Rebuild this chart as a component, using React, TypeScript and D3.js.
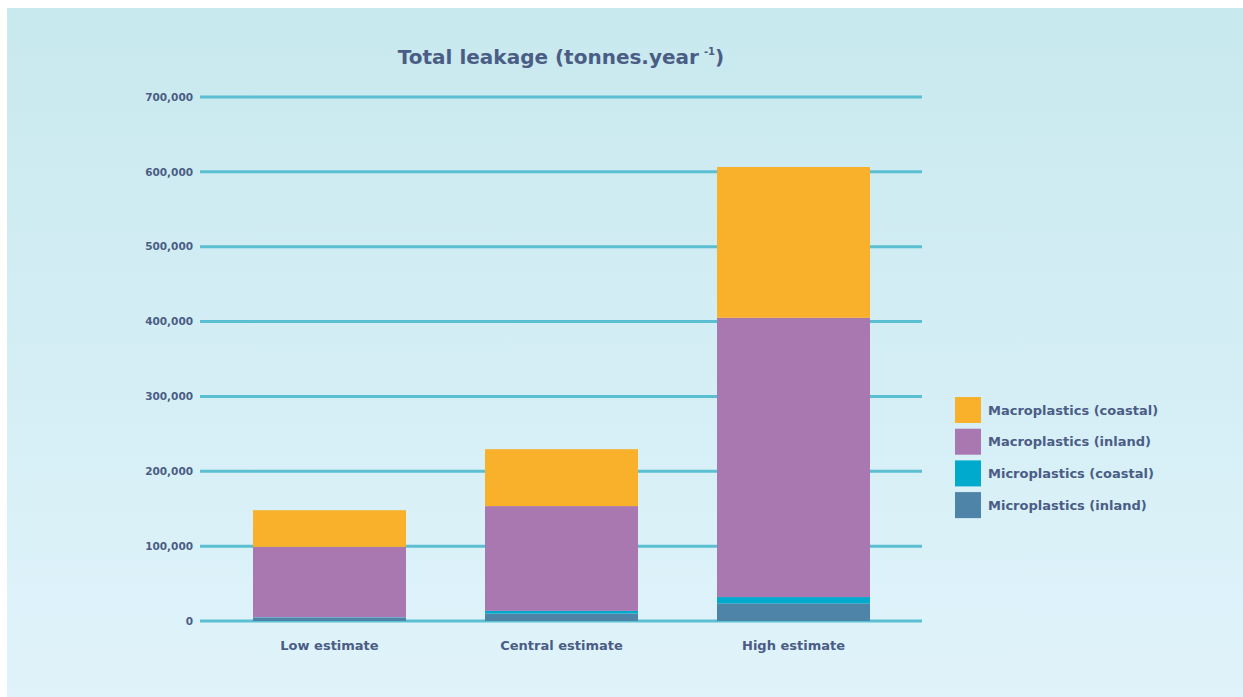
import React from "react";
import * as d3 from "d3";

const categories = ["Low estimate", "Central estimate", "High estimate"];
const seriesNames = [
  "Microplastics (inland)",
  "Microplastics (coastal)",
  "Macroplastics (inland)",
  "Macroplastics (coastal)",
];
const microInland = [4500, 10000, 23600];
const microCoastal = [500, 3500, 8400];
const macroInland = [94000, 140000, 373000];
const macroCoastal = [49000, 76000, 201500];
const yTicks = [0, 100000, 200000, 300000, 400000, 500000, 600000, 700000];
const legendOrder = [
  "Macroplastics (coastal)",
  "Macroplastics (inland)",
  "Microplastics (coastal)",
  "Microplastics (inland)",
];

const colors: Record<string, string> = {
  "Microplastics (inland)": "#4d84a8",
  "Microplastics (coastal)": "#00aacd",
  "Macroplastics (inland)": "#a978b1",
  "Macroplastics (coastal)": "#f9b02a",
};

const W = 1243;
const H = 697;
const textColor = "#4a5d85";
const font = "'DejaVu Sans', 'Open Sans', sans-serif";

export default function App() {
  const rows = categories.map((c, i) => ({
    cat: c,
    "Microplastics (inland)": microInland[i],
    "Microplastics (coastal)": microCoastal[i],
    "Macroplastics (inland)": macroInland[i],
    "Macroplastics (coastal)": macroCoastal[i],
  }));
  const stacked = d3.stack<any>().keys(seriesNames)(rows);

  const y = d3.scaleLinear().domain([0, 700000]).range([621, 97]);
  const x = d3
    .scaleBand<string>()
    .domain(categories)
    .range([253, 870])
    .paddingInner(79 / 232)
    .paddingOuter(0);

  const fmt = d3.format(",");

  return (
    <svg
      width={W}
      height={H}
      style={{ position: "absolute", left: 0, top: 0 }}
      fontFamily={font}
    >
      <defs>
        <linearGradient id="bg" x1="0" y1="0" x2="0" y2="1">
          <stop offset="0" stopColor="#c8e9ee" />
          <stop offset="1" stopColor="#e0f3fb" />
        </linearGradient>
      </defs>
      <rect x={0} y={0} width={W} height={H} fill="#ffffff" />
      <rect x={7} y={8} width={W - 7} height={H - 8} fill="url(#bg)" />

      <text
        x={561}
        y={64}
        textAnchor="middle"
        fontSize={20}
        fontWeight={700}
        fill={textColor}
      >
        Total leakage (tonnes.year
        <tspan fontSize={10} dy={-9} dx={5}>-1</tspan>
        <tspan dy={9}>)</tspan>
      </text>

      {yTicks.map((t) => (
        <g key={t}>
          <line
            x1={200}
            x2={922}
            y1={y(t)}
            y2={y(t)}
            stroke="#5bbfd2"
            strokeWidth={3}
          />
          <text
            x={193}
            y={y(t)}
            dy="0.35em"
            textAnchor="end"
            fontSize={10.5}
            fontWeight={700}
            fill={textColor}
          >
            {fmt(t)}
          </text>
        </g>
      ))}

      {stacked.map((s) => (
        <g key={s.key} fill={colors[s.key]}>
          {s.map((d, i) => (
            <rect
              key={i}
              x={x(categories[i])}
              width={x.bandwidth()}
              y={y(d[1])}
              height={y(d[0]) - y(d[1])}
            />
          ))}
        </g>
      ))}

      {categories.map((c) => (
        <text
          key={c}
          x={(x(c) as number) + x.bandwidth() / 2}
          y={650}
          textAnchor="middle"
          fontSize={13}
          fontWeight={700}
          fill={textColor}
        >
          {c}
        </text>
      ))}

      {legendOrder.map((k, i) => (
        <g key={k} transform={`translate(955, ${397 + i * 31.7})`}>
          <rect width={26} height={26} fill={colors[k]} />
          <text
            x={33}
            y={13}
            dy="0.35em"
            fontSize={13}
            fontWeight={700}
            fill={textColor}
          >
            {k}
          </text>
        </g>
      ))}
    </svg>
  );
}
